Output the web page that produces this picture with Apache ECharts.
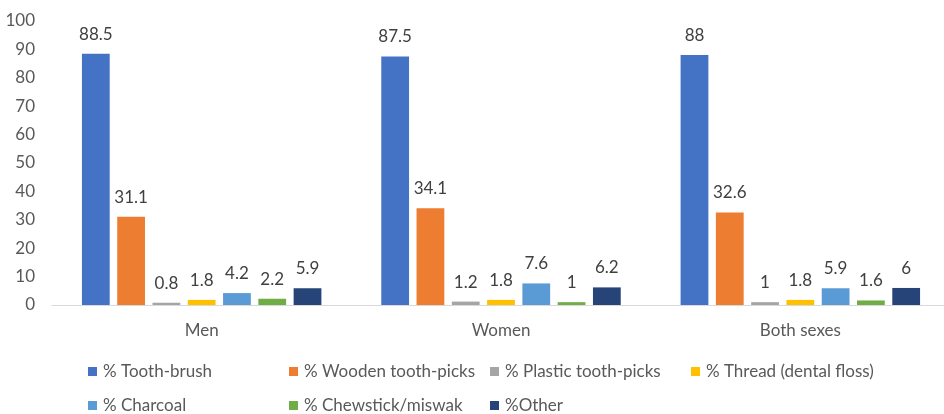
<!DOCTYPE html>
<html>
<head>
<meta charset="utf-8">
<script src="https://cdn.jsdelivr.net/npm/echarts@6/dist/echarts.min.js"></script>
<style>
  html, body { margin: 0; padding: 0; background: #fff; }
  #chart { width: 944px; height: 414px; }
</style>
</head>
<body>
<div id="chart"></div>
<script>
// Tooth-cleaning methods by sex (%)
const categories = ['Men', 'Women', 'Both sexes'];
const seriesNames = [
  '% Tooth-brush',
  '% Wooden tooth-picks',
  '% Plastic tooth-picks',
  '% Thread (dental floss)',
  '% Charcoal',
  '% Chewstick/miswak',
  '%Other'
];
const toothBrush    = [88.5, 87.5, 88];
const woodenPicks   = [31.1, 34.1, 32.6];
const plasticPicks  = [0.8, 1.2, 1];
const thread        = [1.8, 1.8, 1.8];
const charcoal      = [4.2, 7.6, 5.9];
const chewstick     = [2.2, 1, 1.6];
const other         = [5.9, 6.2, 6];
const yTicks = { min: 0, max: 100, interval: 10 };

const seriesValues = [toothBrush, woodenPicks, plasticPicks, thread, charcoal, chewstick, other];
const colors = ['#4472C4', '#ED7D31', '#A5A5A5', '#FFC000', '#5B9BD5', '#70AD47', '#264478'];
const font = 'Lato, "Open Sans", sans-serif';

// legend placement: two rows of entries
const legendPos = [
  [88, 363], [289, 363], [490, 363], [691, 363],
  [88, 397], [289, 397], [490, 397]
];

const chart = echarts.init(document.getElementById('chart'));
chart.setOption({
  animation: false,
  color: colors,
  // plot area runs slightly past the right edge of the canvas
  grid: { left: 52, width: 898, top: 21, bottom: 109, containLabel: false, outerBoundsMode: 'none' },
  legend: seriesNames.map((n, i) => ({
    data: [n],
    left: legendPos[i][0],
    top: legendPos[i][1],
    itemWidth: 9,
    itemHeight: 9,
    itemGap: 0,
    icon: 'rect',
    padding: 0,
    textStyle: { fontFamily: font, fontSize: 17, color: '#595959', padding: [0, 0, 0, 1] }
  })),
  xAxis: {
    type: 'category',
    data: categories,
    axisLine: { lineStyle: { color: '#D9D9D9', width: 1 } },
    axisTick: { show: false },
    axisLabel: { fontFamily: font, fontSize: 17, color: '#595959', margin: 17 }
  },
  yAxis: {
    type: 'value',
    min: yTicks.min,
    max: yTicks.max,
    interval: yTicks.interval,
    splitLine: { show: false },
    axisLine: { show: false },
    axisTick: { show: false },
    axisLabel: { fontFamily: font, fontSize: 17, color: '#595959', margin: 17 }
  },
  series: seriesNames.map((n, i) => ({
    name: n,
    type: 'bar',
    data: seriesValues[i],
    barGap: '27%',
    barCategoryGap: '20%',
    label: {
      show: true,
      position: 'top',
      distance: 11,
      fontFamily: font,
      fontSize: 17,
      color: '#404040'
    }
  }))
});
</script>
</body>
</html>
